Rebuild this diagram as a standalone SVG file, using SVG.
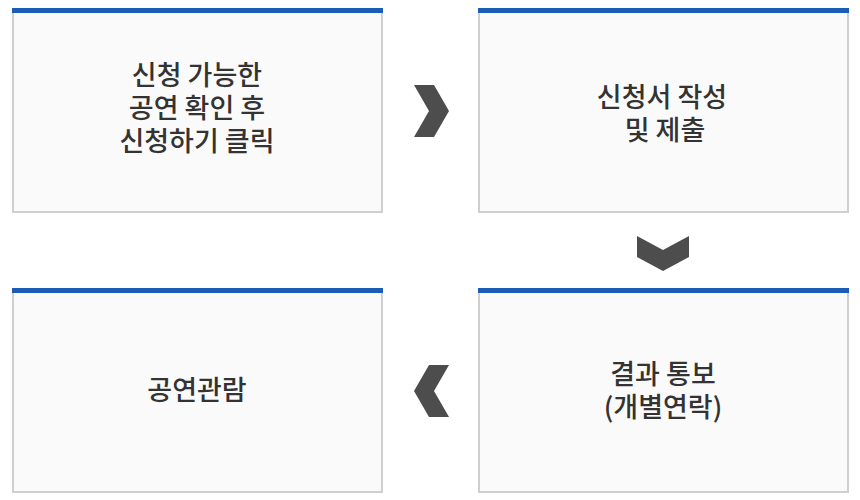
<svg xmlns="http://www.w3.org/2000/svg" width="860" height="500" viewBox="0 0 860 500">
<style>
.box{fill:#fafafa;stroke:#cfcfcf;stroke-width:2}
.bar{fill:#1c5cb5}
.t{font-family:"Noto Sans CJK KR","Noto Sans",sans-serif;font-size:27px;font-weight:500;fill:#333333;text-anchor:middle}
.arr{fill:#4d4d4d}
</style>
<rect width="860" height="500" fill="#ffffff"/>
<g id="node1">
<rect class="box" x="13" y="12" width="369" height="200"/>
<rect class="bar" x="12" y="8" width="371" height="5"/>
<text class="t"><tspan x="197" y="85">신청 가능한</tspan><tspan x="197" y="118">공연 확인 후</tspan><tspan x="197" y="151">신청하기 클릭</tspan></text>
</g>
<g id="node2">
<rect class="box" x="479" y="12" width="369" height="200"/>
<rect class="bar" x="478" y="8" width="371" height="5"/>
<text class="t"><tspan x="662" y="107">신청서 작성</tspan><tspan x="665" y="140">및 제출</tspan></text>
</g>
<g id="node3">
<rect class="box" x="479" y="292" width="369" height="200"/>
<rect class="bar" x="478" y="288" width="371" height="5"/>
<text class="t"><tspan x="663" y="384">결과 통보</tspan><tspan x="663" y="417">(개별연락)</tspan></text>
</g>
<g id="node4">
<rect class="box" x="13" y="292" width="369" height="200"/>
<rect class="bar" x="12" y="288" width="371" height="5"/>
<text class="t" x="197" y="400">공연관람</text>
</g>
<g id="connectors">
<polygon class="arr" points="414,85 434,85 449,111 434,137 414,137 429,111"/>
<polygon class="arr" points="637,236 663,250 689,236 689,257 663,271 637,257"/>
<polygon class="arr" points="449,365 429,365 414,391 429,417 449,417 434,391"/>
</g>
</svg>
